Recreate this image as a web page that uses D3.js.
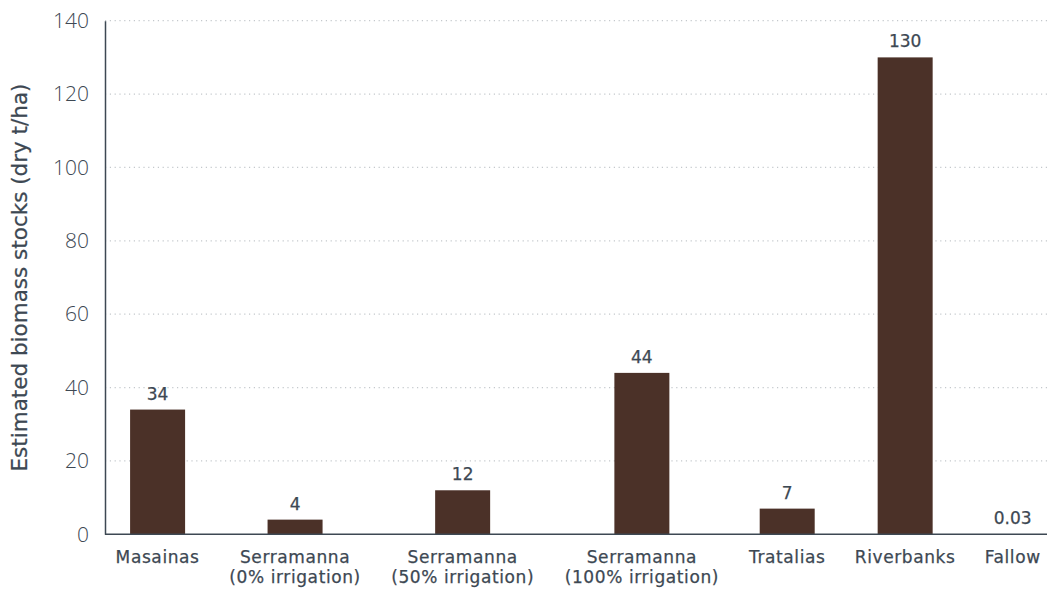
<!DOCTYPE html>
<html><head><meta charset="utf-8">
<script src="https://cdn.jsdelivr.net/npm/d3@7"></script>
<style>
html,body{margin:0;padding:0;background:#fff;}
svg{display:block;}
</style></head>
<body>
<svg id="chart" width="1047" height="589"></svg>
<script>
const categories = [
  ["Masainas"],
  ["Serramanna", "(0% irrigation)"],
  ["Serramanna", "(50% irrigation)"],
  ["Serramanna", "(100% irrigation)"],
  ["Tratalias"],
  ["Riverbanks"],
  ["Fallow"]
];
const values = [34, 4, 12, 44, 7, 130, 0.03];
const valueLabels = ["34", "4", "12", "44", "7", "130", "0.03"];
const yTicks = [0, 20, 40, 60, 80, 100, 120, 140];
const yTitle = "Estimated biomass stocks (dry t/ha)";

const W = 1047, H = 589;
const m = {left: 105, right: 0, top: 20.7, bottom: 54.7};
const textColor = "#3d4853";
const barColor = "#4b3128";
const font = "'DejaVu Sans', 'Noto Sans', sans-serif";

const svg = d3.select("#chart");
const keys = categories.map(c => c.join(" "));

const y = d3.scaleLinear().domain([0, 140]).range([H - m.bottom, m.top]);

// gridlines
svg.append("g").selectAll("line").data(yTicks.filter(t => t > 0)).join("line")
  .attr("x1", m.left).attr("x2", W)
  .attr("y1", d => y(d)).attr("y2", d => y(d))
  .attr("stroke", "#c4c8cc").attr("stroke-width", 1.2)
  .attr("stroke-dasharray", "1.2,3.6");

// measure category label widths for variable-spacing layout
const labelSize = 17;
const labelSpacing = 0.6;
const meas = svg.append("g").attr("font-family", font).attr("font-size", labelSize)
  .attr("letter-spacing", labelSpacing);
const widths = categories.map(lines => d3.max(lines, l => {
  const t = meas.append("text").text(l);
  const w = t.node().getComputedTextLength();
  t.remove();
  return w;
}));
meas.remove();
const gap = 27;
const slots = widths.map(w => w + gap);
const total = d3.sum(slots);
const xStart = 101, xEnd = 1055;
const k = (xEnd - xStart) / total;
const cum = d3.cumsum(slots);
const centers = slots.map((s, i) => xStart + (cum[i] - s / 2) * k);
const x = d3.scaleOrdinal().domain(keys).range(centers);
const barW = 55;

// bars
svg.append("g").selectAll("rect").data(values).join("rect")
  .attr("x", (d, i) => x(keys[i]) - barW / 2)
  .attr("width", barW)
  .attr("y", d => y(d))
  .attr("height", d => y(0) - y(d))
  .attr("fill", barColor);

// value labels
svg.append("g").selectAll("text").data(values).join("text")
  .attr("x", (d, i) => x(keys[i]))
  .attr("y", d => y(d) - 10)
  .attr("text-anchor", "middle")
  .attr("font-family", font).attr("font-size", 17)
  .attr("fill", textColor).attr("stroke", textColor).attr("stroke-width", 0.25)
  .text((d, i) => valueLabels[i]);

// y axis
const yAxis = svg.append("g").attr("transform", `translate(${m.left},0)`)
  .call(d3.axisLeft(y).tickValues(yTicks).tickSize(0).tickPadding(16));
yAxis.select(".domain").attr("stroke", textColor).attr("stroke-width", 1.5);
yAxis.selectAll("text").attr("font-family", "'Open Sans', 'Noto Sans', sans-serif")
  .attr("font-size", 21).attr("font-weight", 300).attr("fill", textColor);

// x axis line
svg.append("line").attr("x1", m.left).attr("x2", W)
  .attr("y1", y(0)).attr("y2", y(0))
  .attr("stroke", textColor).attr("stroke-width", 1.5);

// category labels
const cl = svg.append("g").selectAll("text").data(categories).join("text")
  .attr("text-anchor", "middle")
  .attr("font-family", font).attr("font-size", labelSize)
  .attr("letter-spacing", labelSpacing)
  .attr("fill", textColor).attr("stroke", textColor).attr("stroke-width", 0.25)
  .attr("transform", (d, i) => `translate(${x(keys[i])},0)`);
cl.selectAll("tspan").data(d => d).join("tspan")
  .attr("x", 0)
  .attr("y", (d, j) => 563 + j * 20)
  .text(d => d);

// y title
svg.append("text")
  .attr("transform", `translate(27,${(y(0) + y(140)) / 2}) rotate(-90)`)
  .attr("text-anchor", "middle")
  .attr("font-family", font).attr("font-size", 21.5)
  .attr("fill", textColor).attr("stroke", textColor).attr("stroke-width", 0.25)
  .text(yTitle);
</script>
</body></html>
